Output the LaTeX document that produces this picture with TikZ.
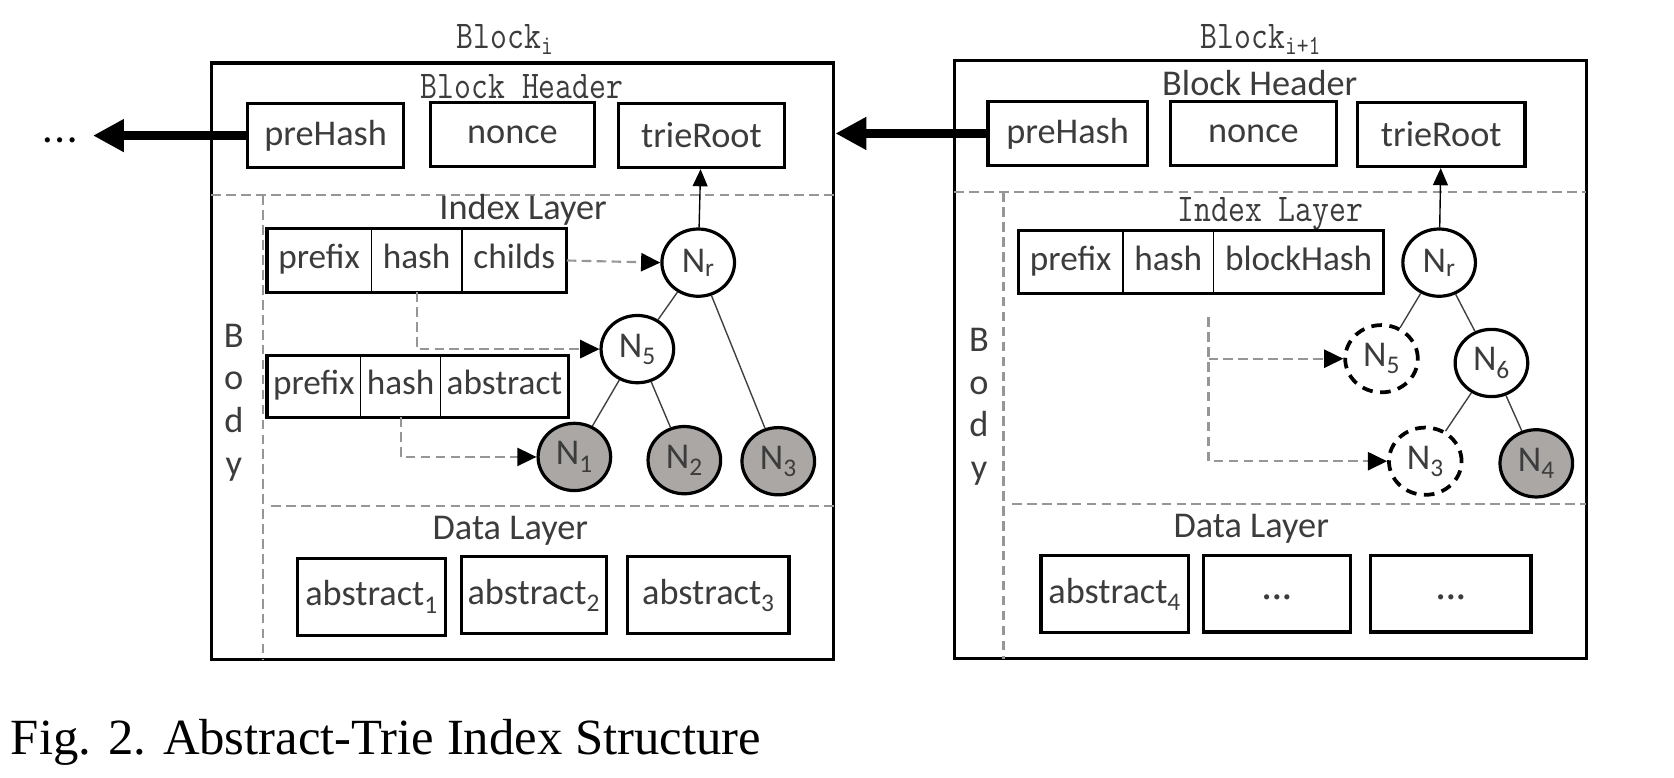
\documentclass[tikz,border=0pt]{standalone}
\usepackage{fontspec}
\setmainfont{Carlito}
\newfontfamily\capfont{Liberation Serif}
\usetikzlibrary{arrows.meta,shapes.geometric,shapes.multipart}
\definecolor{leafgray}{RGB}{170,167,165}
\definecolor{inkgray}{RGB}{60,60,60}
\definecolor{dashgray}{RGB}{150,150,150}
\newcommand{\tallmono}[1]{\scalebox{1}[1.2]{\ttfamily\fontsize{30.7}{34}\selectfont #1}}
\newcommand{\cellstrut}{\rule[-8pt]{0pt}{31pt}}
\newcommand{\middots}[2]{\smash{\raisebox{#1}{·\kern#2·\kern#2·}}}

\tikzset{
  blockbox/.style={draw,line width=3pt,inner sep=0pt},
  fieldbox/.style={draw,line width=3pt,minimum height=60pt,inner sep=0pt,text=inkgray,font=\fontsize{34}{40}\selectfont},
  databox/.style={draw,line width=3pt,minimum height=72pt,inner sep=0pt,text=inkgray,font=\fontsize{34}{40}\selectfont},
  record/.style={draw,line width=1.5pt,rectangle split,rectangle split horizontal,rectangle split parts=3,anchor=west,inner ysep=13.5pt,text=inkgray,font=\fontsize{33}{40}\selectfont},
  trienode/.style={ellipse,draw,line width=3pt,minimum width=68pt,minimum height=63pt,inner sep=0pt,text=inkgray,font=\fontsize{34}{40}\selectfont},
  leafnode/.style={trienode,fill=leafgray},
  gonenode/.style={trienode,dash pattern=on 10pt off 7pt,line width=3.5pt},
  layerlabel/.style={text=inkgray,font=\fontsize{34}{40}\selectfont,inner sep=0pt},
  sepline/.style={dashgray,line width=2pt,dash pattern=on 9pt off 5pt},
  treeedge/.style={black!75,line width=1.3pt},
  rootarrow/.style={-{Triangle[length=16pt,width=14pt]},line width=1.3pt},
  ptrarrow/.style={sepline,-{Triangle[length=18pt,width=17pt,color=black]}},
  chainarrow/.style={-{Triangle[length=29pt,width=29pt]},line width=8.5pt},
}

\begin{document}
\begin{tikzpicture}[x=1pt,y=-1pt]
\useasboundingbox (0,0) rectangle (1568,728);

% the two blocks
\node[blockbox,minimum width=583pt,minimum height=559pt] (blkL) at (489.5,338.5) {};
\node[blockbox,minimum width=592pt,minimum height=560pt] (blkR) at (1190,337) {};
\node[layerlabel] (titleL) at (473,37) {\tallmono{Block\textsubscript{i}}};
\node[layerlabel] (titleR) at (1181,37) {\tallmono{Block\textsubscript{i+1}}};

\draw[sepline] (198,183) -- (781,183);
\draw[sepline] (246,183) -- (246,618);
\draw[sepline] (254,474) -- (781,474);
\draw[sepline] (894,180) -- (1486,180);
\draw[sepline] (940,180) -- (940,617);
\draw[sepline] (948,472) -- (1486,472);

\node[layerlabel] (hdrL) at (489,81) {\tallmono{Block Header}};
\node[layerlabel] (hdrR) at (1180,78) {Block Header};
\node[layerlabel] (idxL) at (490,197) {Index Layer};
\node[layerlabel] (idxR) at (1190,200) {\tallmono{Index Layer}};
\node[layerlabel] (datL) at (478,497) {Data Layer};
\node[layerlabel] (datR) at (1172,495) {Data Layer};
\node[layerlabel,align=center] (bodyL) at (219,377) {B\\o\\d\\y};
\node[layerlabel,align=center] (bodyR) at (917,381) {B\\o\\d\\y};

% header fields
\node[fieldbox,minimum width=146pt] (preL) at (305,127) {preHash};
\node[fieldbox,minimum width=153pt] (nonceL) at (480,126) {nonce};
\node[fieldbox,minimum width=156pt] (rootL) at (657,127) {trieRoot};
\node[fieldbox,minimum width=149pt] (preR) at (1000,125) {preHash};
\node[fieldbox,minimum width=156pt] (nonceR) at (1174,125) {nonce};
\node[fieldbox,minimum width=157pt] (rootR) at (1350,126) {trieRoot};

% index records
\node[record,inner xsep=10pt] (recA) at (250,244) {\cellstrut prefix\nodepart{two}\cellstrut hash\nodepart{three}\cellstrut childs};
\node[record,inner xsep=5pt,inner ysep=12.5pt] (recB) at (250,362) {\cellstrut prefix\nodepart{two}\cellstrut hash\nodepart{three}\cellstrut abstract};
\node[record,inner xsep=10pt] (recC) at (954,245.5) {\cellstrut prefix\nodepart{two}\cellstrut hash\nodepart{three}\cellstrut blockHash};
\foreach \r in {recA,recB,recC}
  \draw[line width=3pt] (\r.south west) rectangle (\r.north east);

% tries
\node[trienode] (NrL) at (654,246) {N\textsubscript{r}};
\node[trienode] (N5L) at (597,327) {N\textsubscript{5}};
\node[leafnode] (N1L) at (538,428) {N\textsubscript{1}};
\node[leafnode] (N2L) at (641,431) {N\textsubscript{2}};
\node[leafnode] (N3L) at (729,432) {N\textsubscript{3}};
\node[trienode] (NrR) at (1348,246) {N\textsubscript{r}};
\node[gonenode] (N5R) at (1294,336) {N\textsubscript{5}};
\node[trienode] (N6R) at (1397,340) {N\textsubscript{6}};
\node[gonenode] (N3R) at (1335,432) {N\textsubscript{3}};
\node[leafnode] (N4R) at (1439,434) {N\textsubscript{4}};

\draw[treeedge] (NrL) -- (N5L) (NrL) -- (N3L) (N5L) -- (N1L) (N5L) -- (N2L);
\draw[treeedge] (NrR) -- (N5R) (NrR) -- (N6R) (N6R) -- (N3R) (N6R) -- (N4R);
\draw[rootarrow] (NrL) -- (rootL);
\draw[rootarrow] (NrR) -- (rootR);

\draw[ptrarrow] (recA.east) -- (NrL.west);
\draw[ptrarrow] (recA.two south) |- (N5L.west);
\draw[ptrarrow] (recB.two south) |- (N1L.west);
\coordinate (forkR) at (1132,297);
\draw[ptrarrow] (forkR) |- (N3R.west);
\draw[ptrarrow] (forkR |- N5R.west) -- (N5R.west);

% data layer
\node[databox,minimum width=138pt] (absA) at (348,559) {abstract\textsubscript{1}};
\node[databox,minimum width=136pt] (absB) at (500,557.5) {abstract\textsubscript{2}};
\node[databox,minimum width=151pt] (absC) at (663.5,557.5) {abstract\textsubscript{3}};
\node[databox,minimum width=138pt] (absD) at (1044,556.5) {abstract\textsubscript{4}};
\node[databox,minimum width=138pt] (absE) at (1196,556) {\middots{-13pt}{1pt}};
\node[databox,minimum width=150pt] (absF) at (1359,556) {\middots{-13pt}{1pt}};

% chain
\node[layerlabel,inner xsep=15pt,text=black] (etc) at (56,127) {\middots{-14pt}{3pt}};
\draw[chainarrow] (preL.west) -- (etc.east);
\draw[chainarrow] (preR.west) -- (preR.west -| blkL.east);

\node[anchor=base west,inner sep=0pt,font=\capfont\fontsize{47.5}{50}\selectfont] (caption) at (10,707) {Fig. 2. Abstract-Trie Index Structure};
\end{tikzpicture}
\end{document}
